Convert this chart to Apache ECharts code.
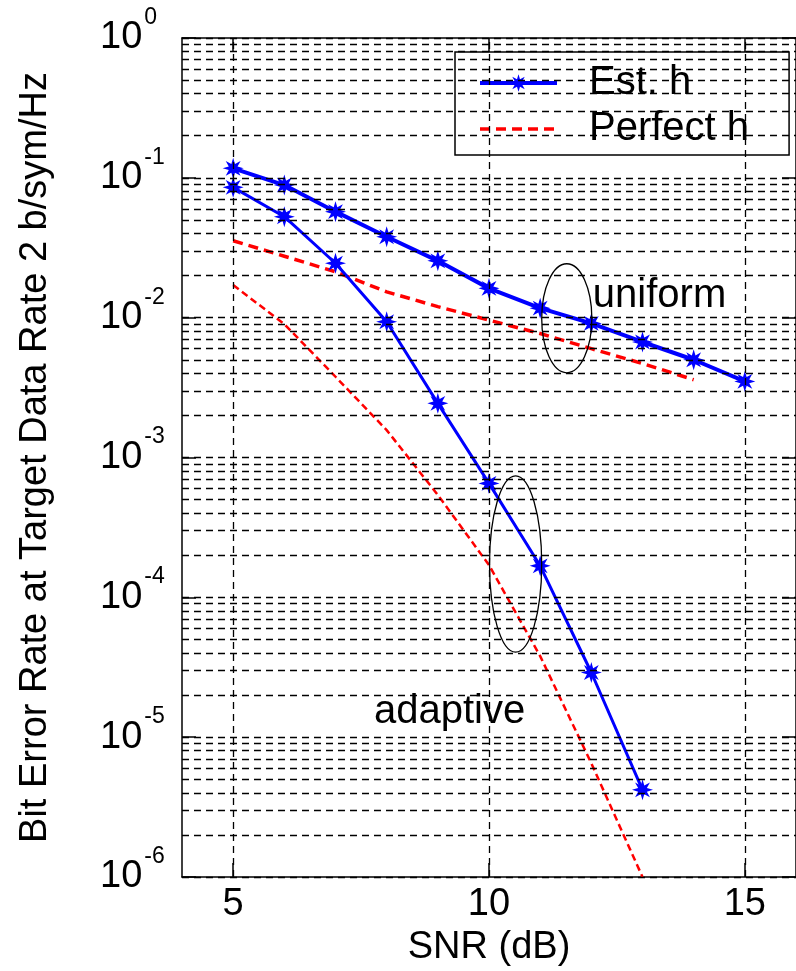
<!DOCTYPE html>
<html>
<head>
<meta charset="utf-8">
<script src="https://cdn.jsdelivr.net/npm/echarts@6/dist/echarts.min.js"></script>
<style>
html, body { margin: 0; padding: 0; background: #fff; }
#chart { width: 796px; height: 971px; }
</style>
</head>
<body>
<div id="chart"></div>
<script>
// SNR points (dB)
const snrUniform = [5, 6, 7, 8, 9, 10, 11, 12, 13, 14, 15];
const snrUniformPerfect = [5, 6, 7, 8, 9, 10, 11, 12, 13, 14];
const snrAdaptive = [5, 6, 7, 8, 9, 10, 11, 12, 13];

// BER values
const berEstUniform = [0.117, 0.0888, 0.0573, 0.0379, 0.0255, 0.0162, 0.0117, 0.0091, 0.0067, 0.0050, 0.0035];
const berPerfUniform = [0.0355, 0.0275, 0.0213, 0.0153, 0.0120, 0.0096, 0.0077, 0.0060, 0.0047, 0.0036];
const berEstAdaptive = [0.0855, 0.0527, 0.0245, 0.00935, 0.00244, 0.000653, 0.000168, 0.000029, 0.0000042];
const berPerfAdaptive = [0.0171, 0.0090, 0.00378, 0.00157, 0.00054, 0.00017, 0.000038, 0.0000065, 0.000001];

// ticks
const xTickValues = [5, 10, 15];
const yTickExps = [0, -1, -2, -3, -4, -5, -6];
const minorMantissas = [2, 3, 4, 5, 6, 7, 8, 9];

// annotations (data coords): [snr, ber, half width dB, half height decades]
const ellipseUniform = [11.52, 0.0099, 0.49, 0.39];
const ellipseAdaptive = [10.52, 0.000173, 0.51, 0.63];
const textUniform = [12.03, 0.0143];
const textAdaptive = [9.23, 0.0000151];

const FONT = '"Liberation Sans", Arial, Helvetica, sans-serif';
const starPath = 'path://M10,0L4.16,1.72L7.07,7.07L1.72,4.16L0,10L-1.72,4.16L-7.07,7.07L-4.16,1.72L-10,0L-4.16,-1.72L-7.07,-7.07L-1.72,-4.16L0,-10L1.72,-4.16L7.07,-7.07L4.16,-1.72Z';

const pairs = (xs, ys) => xs.map((x, i) => [x, ys[i]]);
const yTickValues = yTickExps.map(e => Math.pow(10, e));

// dashed grid lines (major + minor decades, plus vertical at x ticks)
const gridLines = [];
yTickExps.forEach(e => {
  gridLines.push({ yAxis: Math.pow(10, e) });
  if (e > -6) {
    minorMantissas.forEach(m => gridLines.push({ yAxis: m * Math.pow(10, e - 1) }));
  }
});
xTickValues.forEach(x => gridLines.push({ xAxis: x }));

const chart = echarts.init(document.getElementById('chart'));

const option = {
  animation: false,
  backgroundColor: '#fff',
  grid: { left: 182, top: 38, right: 0, bottom: 94, outerBoundsMode: 'none' },
  legend: {
    data: [
      { name: 'Est. h', lineStyle: { width: 4 } },
      { name: 'Perfect h', itemStyle: { opacity: 0 }, lineStyle: { width: 3.5 } }
    ],
    orient: 'vertical',
    left: 455, top: 52,
    itemWidth: 77, itemHeight: 22, itemGap: 6,
    padding: [11, 40, 6, 23],
    borderColor: '#000', borderWidth: 1.5, backgroundColor: '#fff',
    textStyle: { fontFamily: FONT, fontSize: 40, color: '#000', lineHeight: 39, padding: [0, 0, 0, 27] }
  },
  xAxis: [{
    type: 'value', min: 4, max: 16,
    name: 'SNR (dB)', nameLocation: 'middle', nameGap: 49,
    nameTextStyle: { fontFamily: FONT, fontSize: 38, color: '#000' },
    axisLine: { lineStyle: { color: '#000', width: 1.5 } },
    axisTick: { inside: true, length: 14, customValues: xTickValues, lineStyle: { color: '#000', width: 1.5 } },
    axisLabel: { customValues: xTickValues, margin: 9, fontFamily: FONT, fontSize: 38, color: '#000' },
    splitLine: { show: false }
  }, {
    type: 'value', min: 4, max: 16, position: 'top',
    axisLine: { lineStyle: { color: '#000', width: 1.5 } },
    axisTick: { inside: true, length: 14, customValues: xTickValues, lineStyle: { color: '#000', width: 1.5 } },
    axisLabel: { show: false },
    splitLine: { show: false }
  }],
  yAxis: [{
    type: 'log', logBase: 10, min: 1e-6, max: 1,
    name: 'Bit Error Rate at Target Data Rate 2 b/sym/Hz',
    nameLocation: 'middle', nameRotate: 90, nameGap: 127,
    nameTextStyle: { fontFamily: FONT, fontSize: 38, color: '#000' },
    axisLine: { show: true, lineStyle: { color: '#000', width: 1.5 } },
    axisTick: { inside: true, length: 14, customValues: yTickValues, lineStyle: { color: '#000', width: 1.5 } },
    axisLabel: {
      customValues: yTickValues,
      align: 'left', margin: 82,
      formatter: v => '{b|10}{s|' + Math.round(Math.log10(v)) + '}',
      rich: {
        b: { fontFamily: FONT, fontSize: 38, color: '#000', verticalAlign: 'middle' },
        s: { fontFamily: FONT, fontSize: 23, color: '#000', lineHeight: 64, verticalAlign: 'top', padding: [0, 0, 0, 2] }
      }
    },
    splitLine: { show: false }
  }, {
    type: 'log', logBase: 10, min: 1e-6, max: 1, position: 'right',
    axisLine: { show: true, lineStyle: { color: '#000', width: 1.5 } },
    axisTick: { inside: true, length: 14, customValues: yTickValues, lineStyle: { color: '#000', width: 1.5 } },
    axisLabel: { show: false },
    splitLine: { show: false }
  }],
  series: [
    {
      name: 'grid', type: 'line', z: 1, silent: true,
      data: [[4, 1e-6]], symbol: 'none', lineStyle: { opacity: 0 },
      markLine: {
        silent: true, symbol: ['none', 'none'], precision: 12,
        label: { show: false },
        lineStyle: { color: '#000', width: 1.3, type: [7, 5] },
        emphasis: { disabled: true },
        data: gridLines
      }
    },
    {
      name: 'Perfect h', type: 'line', z: 3, symbol: 'none',
      data: pairs(snrUniformPerfect, berPerfUniform),
      lineStyle: { color: '#ff0000', width: 3.5, type: [10, 6] },
      itemStyle: { color: '#ff0000' }
    },
    {
      name: 'Perfect h', type: 'line', z: 3, symbol: 'none',
      data: pairs(snrAdaptive, berPerfAdaptive),
      lineStyle: { color: '#ff0000', width: 2.5, type: [7, 4] },
      itemStyle: { color: '#ff0000' }
    },
    {
      name: 'Est. h', type: 'line', z: 4,
      data: pairs(snrUniform, berEstUniform),
      symbol: starPath, symbolSize: 21, showAllSymbol: true,
      lineStyle: { color: '#0000ff', width: 4 },
      itemStyle: { color: '#0000ff' }
    },
    {
      name: 'Est. h', type: 'line', z: 4,
      data: pairs(snrAdaptive, berEstAdaptive),
      symbol: starPath, symbolSize: 21, showAllSymbol: true,
      lineStyle: { color: '#0000ff', width: 3 },
      itemStyle: { color: '#0000ff' }
    }
  ]
};

chart.setOption(option);

// annotations placed through the axis scales
function ellipseFor(e) {
  const c = chart.convertToPixel({ xAxisIndex: 0, yAxisIndex: 0 }, [e[0], e[1]]);
  const r = chart.convertToPixel({ xAxisIndex: 0, yAxisIndex: 0 }, [e[0] + e[2], e[1] * Math.pow(10, e[3])]);
  return {
    type: 'ellipse', z: 10, silent: true,
    shape: { cx: c[0], cy: c[1], rx: Math.abs(r[0] - c[0]), ry: Math.abs(c[1] - r[1]) },
    style: { fill: 'none', stroke: '#000', lineWidth: 1.3 }
  };
}
function textFor(t, str, align) {
  const p = chart.convertToPixel({ xAxisIndex: 0, yAxisIndex: 0 }, t);
  return {
    type: 'text', z: 10, silent: true, x: p[0], y: p[1],
    style: { text: str, font: '40px ' + FONT, fill: '#000', align: align, verticalAlign: 'middle' }
  };
}
chart.setOption({
  graphic: [
    ellipseFor(ellipseUniform),
    ellipseFor(ellipseAdaptive),
    textFor(textUniform, 'uniform', 'left'),
    textFor(textAdaptive, 'adaptive', 'center')
  ]
});
</script>
</body>
</html>
